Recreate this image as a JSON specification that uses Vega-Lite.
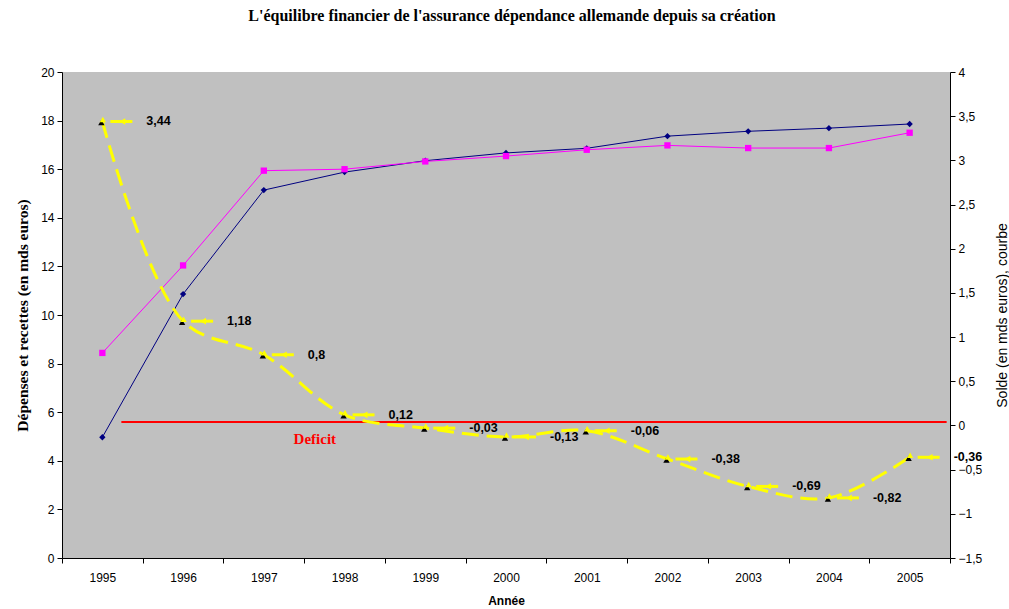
{
  "$schema": "https://vega.github.io/schema/vega-lite/v6.json",
  "width": 888,
  "height": 486,
  "autosize": {"type": "none"},
  "padding": {"left": 62, "top": 72, "right": 59, "bottom": 51},
  "background": "white",
  "title": {
    "text": "L'équilibre financier de l'assurance dépendance allemande depuis sa création",
    "font": "Liberation Serif",
    "fontSize": 16,
    "fontWeight": "bold",
    "color": "#000000",
    "anchor": "middle",
    "offset": 42,
    "dx": 6
  },
  "config": {
    "view": {"fill": "#C0C0C0", "stroke": null},
    "axis": {
      "grid": false,
      "domainColor": "#000000",
      "tickColor": "#000000",
      "tickSize": 5,
      "labelFont": "Liberation Sans",
      "labelFontSize": 12,
      "labelColor": "#000000",
      "titleColor": "#000000"
    }
  },
  "data": {
    "values": [
      {"annee": "1995", "depenses": 4.97, "recettes": 8.44, "solde": 3.44, "label": "3,44"},
      {"annee": "1996", "depenses": 10.86, "recettes": 12.04, "solde": 1.18, "label": "1,18"},
      {"annee": "1997", "depenses": 15.14, "recettes": 15.94, "solde": 0.8, "label": "0,8"},
      {"annee": "1998", "depenses": 15.88, "recettes": 16.0, "solde": 0.12, "label": "0,12"},
      {"annee": "1999", "depenses": 16.35, "recettes": 16.32, "solde": -0.03, "label": "-0,03"},
      {"annee": "2000", "depenses": 16.67, "recettes": 16.54, "solde": -0.13, "label": "-0,13"},
      {"annee": "2001", "depenses": 16.86, "recettes": 16.8, "solde": -0.06, "label": "-0,06"},
      {"annee": "2002", "depenses": 17.36, "recettes": 16.98, "solde": -0.38, "label": "-0,38"},
      {"annee": "2003", "depenses": 17.56, "recettes": 16.87, "solde": -0.69, "label": "-0,69"},
      {"annee": "2004", "depenses": 17.69, "recettes": 16.87, "solde": -0.82, "label": "-0,82"},
      {"annee": "2005", "depenses": 17.86, "recettes": 17.5, "solde": -0.36, "label": "-0,36"}
    ]
  },
  "encoding": {
    "x": {
      "field": "annee",
      "type": "ordinal",
      "scale": {"type": "band", "paddingInner": 0, "paddingOuter": 0},
      "axis": {
        "orient": "bottom",
        "tickBand": "extent",
        "labelAngle": 0,
        "labelPadding": 9,
        "title": "Année",
        "titleFont": "Liberation Sans",
        "titleFontSize": 12,
        "titleFontWeight": "bold",
        "titlePadding": 12
      }
    }
  },
  "layer": [
    {
      "transform": [{"fold": ["depenses", "recettes"], "as": ["serie", "valeur"]}],
      "layer": [
        {
          "mark": {"type": "line", "strokeWidth": 1},
          "encoding": {
            "y": {
              "field": "valeur",
              "type": "quantitative",
              "scale": {"domain": [0, 20], "nice": false},
              "axis": {
                "orient": "left",
                "values": [0, 2, 4, 6, 8, 10, 12, 14, 16, 18, 20],
                "labelPadding": 3,
                "title": "Dépenses et recettes (en mds euros)",
                "titleFont": "Liberation Serif",
                "titleFontSize": 15.5,
                "titleFontWeight": "bold",
                "titlePadding": 10
              }
            },
            "color": {
              "field": "serie",
              "type": "nominal",
              "scale": {"domain": ["depenses", "recettes"], "range": ["#000080", "#FF00FF"]},
              "legend": null
            }
          }
        },
        {
          "mark": {"type": "point", "filled": true, "opacity": 1, "size": 40},
          "encoding": {
            "y": {"field": "valeur", "type": "quantitative"},
            "color": {"field": "serie", "type": "nominal", "legend": null},
            "shape": {
              "field": "serie",
              "type": "nominal",
              "scale": {"domain": ["depenses", "recettes"], "range": ["diamond", "square"]},
              "legend": null
            }
          }
        }
      ]
    },
    {
      "encoding": {
        "y": {
          "field": "solde",
          "type": "quantitative",
          "scale": {"domain": [-1.5, 4], "nice": false},
          "axis": {
            "orient": "right",
            "values": [-1.5, -1, -0.5, 0, 0.5, 1, 1.5, 2, 2.5, 3, 3.5, 4],
            "labelExpr": "replace(format(datum.value, '.1~f'), '.', ',')",
            "labelPadding": 3,
            "title": "Solde (en mds euros), courbe",
            "titleFont": "Liberation Sans",
            "titleFontSize": 14,
            "titleFontWeight": "normal",
            "titleAngle": 270,
            "titlePadding": 28
          }
        }
      },
      "layer": [
        {
          "data": {"values": [{"seuil": 0.04}]},
          "mark": {"type": "rule", "color": "#FF0000", "strokeWidth": 2, "xOffset": 19, "x2Offset": 37},
          "encoding": {
            "x": {"datum": "1995"},
            "x2": {"datum": "2005"},
            "y": {"field": "seuil", "type": "quantitative"}
          }
        },
        {
          "data": {"values": [{"t": "Deficit", "annee": "1997", "v": -0.15}]},
          "mark": {"type": "text", "color": "#FF0000", "font": "Liberation Serif", "fontWeight": "bold", "fontSize": 15, "dx": 51, "baseline": "middle"},
          "encoding": {
            "text": {"field": "t"},
            "y": {"field": "v", "type": "quantitative"}
          }
        },
        {
          "mark": {"type": "line", "interpolate": "catmull-rom", "color": "#FFFF00", "strokeWidth": 3, "strokeDash": [17, 8]}
        },
        {
          "mark": {"type": "rule", "color": "#FFFF00", "strokeWidth": 3, "xOffset": 8, "x2Offset": 30},
          "encoding": {"x2": {"field": "annee"}}
        },
        {
          "mark": {"type": "point", "shape": "triangle-left", "filled": true, "opacity": 1, "color": "#FFFF00", "size": 45, "xOffset": 20}
        },
        {
          "mark": {"type": "point", "shape": "triangle-up", "filled": true, "opacity": 1, "color": "#000000", "size": 40, "xOffset": -1, "yOffset": 1}
        },
        {
          "mark": {"type": "point", "shape": "triangle-up", "filled": true, "opacity": 1, "color": "#FFFF00", "size": 40, "xOffset": 0.5, "yOffset": -2}
        },
        {
          "mark": {"type": "text", "align": "left", "baseline": "middle", "dx": 44, "font": "Liberation Sans", "fontWeight": "bold", "fontSize": 12.5, "color": "#000000"},
          "encoding": {"text": {"field": "label"}}
        }
      ]
    }
  ],
  "resolve": {"scale": {"y": "independent"}}
}
